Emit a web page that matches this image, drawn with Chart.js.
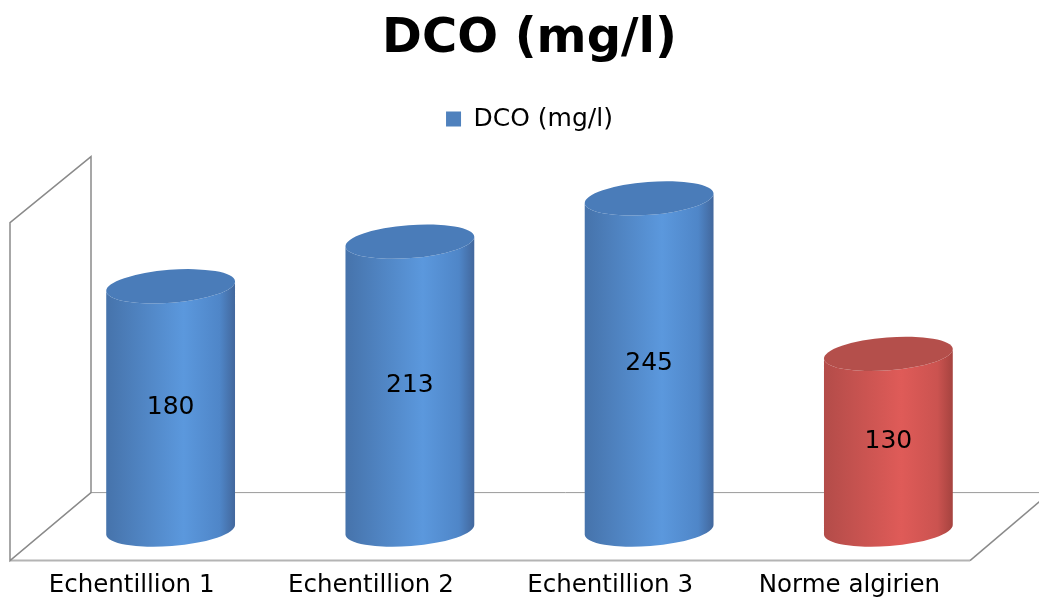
<!DOCTYPE html>
<html>
<head>
<meta charset="utf-8">
<script src="https://cdn.jsdelivr.net/npm/chart.js@4"></script>
<style>
  html, body { margin: 0; padding: 0; background: #fff; }
  #wrap { width: 1039px; height: 601px; }
</style>
</head>
<body>
<div id="wrap"><canvas id="dcoChart"></canvas></div>
<script>
// DCO chart data
const categories = ["Echentillion 1", "Echentillion 2", "Echentillion 3", "Norme algirien"];
const dcoValues = [180, 213, 245, 130];
const seriesLabel = "DCO (mg/l)";
const wallTopValue = 250; // top of the 3D back wall (axis max in the original)

const FONT = "'DejaVu Sans', Verdana, sans-serif";

// cylinder colours: [left, light, right-mid, right edge, top]
const blueShade = ["#4673AB", "#5B98DD", "#4F86C8", "#42679C", "#4A7CB9"];
const redShade = ["#B34C49", "#DF5B58", "#CB5350", "#A5433F", "#B44F4B"];
const barShades = [blueShade, blueShade, blueShade, redShade];

// 3D frame offsets relative to the bar plane
const FRONT = { dx: -41, dy: 31 };
const BACK = { dx: 40, dy: -37 };

const frame3d = {
  id: "frame3d",
  beforeDatasetsDraw(chart) {
    const { ctx, chartArea } = chart;
    const y = chart.scales.y;
    const bottom = y.getPixelForValue(0);
    const top = y.getPixelForValue(wallTopValue);
    const L = chartArea.left, R = chartArea.right;
    ctx.save();
    // floor
    ctx.strokeStyle = "#9a9a9a";
    ctx.lineWidth = 1;
    ctx.beginPath();
    ctx.moveTo(L + BACK.dx, bottom + BACK.dy);
    ctx.lineTo(R + BACK.dx + 2, bottom + BACK.dy);
    ctx.stroke();
    ctx.strokeStyle = "#8a8a8a";
    ctx.lineWidth = 1.5;
    ctx.beginPath();
    ctx.moveTo(R + FRONT.dx + 3, bottom + FRONT.dy);
    ctx.lineTo(R + BACK.dx + 2, bottom + BACK.dy);
    ctx.stroke();
    ctx.strokeStyle = "#b4b4b4";
    ctx.lineWidth = 2;
    ctx.beginPath();
    ctx.moveTo(L + FRONT.dx, bottom + FRONT.dy);
    ctx.lineTo(R + FRONT.dx + 3, bottom + FRONT.dy);
    ctx.stroke();
    // side wall
    ctx.strokeStyle = "#8a8a8a";
    ctx.lineWidth = 1.5;
    ctx.beginPath();
    ctx.moveTo(L + FRONT.dx, bottom + FRONT.dy);
    ctx.lineTo(L + FRONT.dx, top + FRONT.dy);
    ctx.lineTo(L + BACK.dx, top + BACK.dy + 2);
    ctx.lineTo(L + BACK.dx, bottom + BACK.dy);
    ctx.closePath();
    ctx.stroke();
    ctx.restore();
  },
  afterDatasetsDraw(chart) {
    const { ctx } = chart;
    const meta = chart.getDatasetMeta(0);
    const rot = -0.078;
    const ry = 16.5;
    meta.data.forEach((bar, i) => {
      const shade = barShades[i];
      const cx = bar.x, w = bar.width, rx = w / 2;
      const topY = bar.y, baseY = bar.base;
      const ex = rx * Math.cos(rot), ey = rx * Math.sin(rot);
      ctx.save();
      const g = ctx.createLinearGradient(cx - rx, 0, cx + rx, 0);
      g.addColorStop(0, shade[0]);
      g.addColorStop(0.6, shade[1]);
      g.addColorStop(0.88, shade[2]);
      g.addColorStop(1, shade[3]);
      ctx.fillStyle = g;
      ctx.beginPath();
      ctx.moveTo(cx - ex, baseY - ey);
      ctx.ellipse(cx, baseY, rx, ry, rot, Math.PI, 0, true);
      ctx.lineTo(cx + ex, topY + ey);
      ctx.ellipse(cx, topY, rx, ry, rot, 0, Math.PI, false);
      ctx.closePath();
      ctx.fill();
      // top cap
      ctx.fillStyle = shade[4];
      ctx.beginPath();
      ctx.ellipse(cx, topY, rx, ry, rot, 0, Math.PI * 2);
      ctx.fill();
      // value label
      ctx.fillStyle = "#000";
      ctx.font = "25px " + FONT;
      ctx.textAlign = "center";
      ctx.textBaseline = "middle";
      ctx.fillText(String(dcoValues[i]), cx, (topY + baseY) / 2);
      ctx.restore();
    });
  },
};

new Chart(document.getElementById("dcoChart"), {
  type: "bar",
  data: {
    labels: categories,
    datasets: [
      {
        label: seriesLabel,
        data: dcoValues,
        backgroundColor: "rgba(0,0,0,0)",
        borderWidth: 0,
        barPercentage: 0.54,
        categoryPercentage: 1,
      },
    ],
  },
  options: {
    responsive: true,
    maintainAspectRatio: false,
    animation: false,
    layout: {
      padding: { left: 51, right: 31, top: 0, bottom: -40 },
    },
    plugins: {
      title: {
        display: true,
        text: seriesLabel,
        color: "#000",
        font: { family: FONT, size: 48, weight: "bold" },
        padding: { top: 11, bottom: 28 },
      },
      legend: {
        display: true,
        position: "top",
        labels: {
          color: "#000",
          font: { family: FONT, size: 25 },
          boxWidth: 15,
          boxHeight: 15,
          generateLabels: () => [
            {
              text: seriesLabel,
              fillStyle: "#4F81BD",
              strokeStyle: "#4F81BD",
              lineWidth: 0,
              datasetIndex: 0,
            },
          ],
        },
      },
      tooltip: { enabled: false },
    },
    scales: {
      x: {
        grid: { display: false, drawTicks: false },
        border: { display: false },
        ticks: {
          color: "#000",
          font: { family: FONT, size: 24.5 },
          padding: 41,
          labelOffset: -39,
          autoSkip: false,
          maxRotation: 0,
        },
      },
      y: {
        display: false,
        min: 0,
        max: 287,
      },
    },
  },
  plugins: [frame3d],
});
</script>
</body>
</html>
